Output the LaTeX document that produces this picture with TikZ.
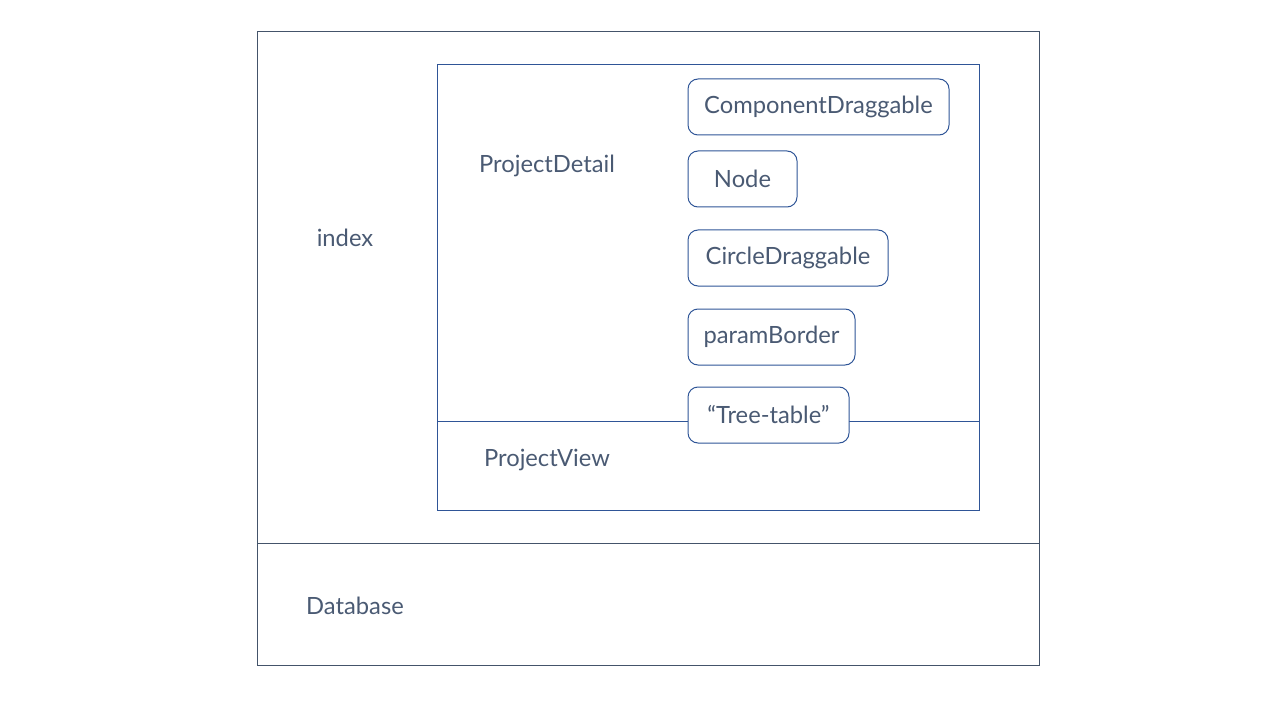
\documentclass[tikz,border=0pt]{standalone}
\usepackage{fontspec}
\setmainfont{Lato}
\definecolor{outerline}{HTML}{44546A}
\definecolor{innerline}{HTML}{2F5597}
\definecolor{txt}{HTML}{4A5A73}
\begin{document}
\begin{tikzpicture}[x=0.75pt,y=-0.75pt,
  frame/.style={draw=outerline,line width=0.75pt,inner sep=0,anchor=north west},
  innerframe/.style={draw=innerline,line width=0.75pt,inner sep=0,anchor=north west},
  comp/.style={draw=innerline,fill=white,line width=0.75pt,rounded corners=7.5pt,inner sep=0,minimum height=42pt,text=txt,font=\fontsize{17.8pt}{19pt}\selectfont},
  lbl/.style={text=txt,inner sep=0,font=\fontsize{17.8pt}{19pt}\selectfont}]
\useasboundingbox (0,0) rectangle (1280,720);
% outer frame
\node[frame,minimum width=586.5pt,minimum height=475.5pt] (outer) at (257,31) {};
\coordinate (odl) at (257,543);
\coordinate (odr) at (1039,543);
\draw[outerline,line width=0.75pt] (odl) -- (odr);
% inner frame
\node[innerframe,minimum width=406.5pt,minimum height=334.5pt] (inner) at (437,64) {};
\coordinate (idl) at (437,421);
\coordinate (idr) at (979,421);
\draw[innerline,line width=0.75pt] (idl) -- (idr);
% labels
\node[lbl] (index) at (345,238) {index};
\node[lbl] (pdetail) at (547,166) {ProjectDetail};
\node[lbl] (pview) at (547,460) {ProjectView};
\node[lbl] (db) at (355,606) {Database};
% components
\node[comp,minimum width=195.75pt] (cd) at (818.5,107) {ComponentDraggable};
\node[comp,minimum width=81.75pt] (nd) at (742.5,179) {Node};
\node[comp,minimum width=150pt] (cid) at (788,258) {CircleDraggable};
\node[comp,minimum width=125.25pt] (pb) at (771.5,337) {paramBorder};
\node[comp,minimum width=120.75pt] (tt) at (768.5,415) {“Tree-table”};
\end{tikzpicture}
\end{document}
